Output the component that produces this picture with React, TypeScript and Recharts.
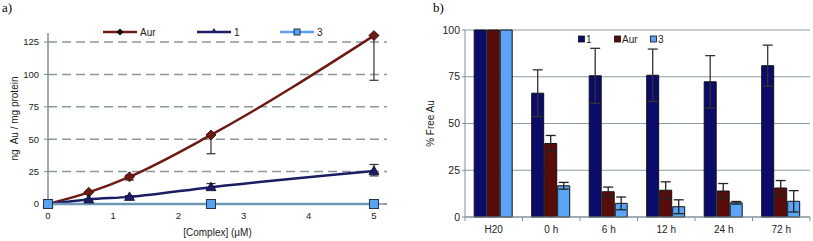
import React from "react";
import {
    LineChart,
    Line,
    BarChart,
    Bar,
    XAxis,
    YAxis,
    CartesianGrid,
    ErrorBar,
    Legend,
} from "recharts";

// panel a: gold uptake vs complex concentration
const CONC = [0, 0.625, 1.25, 2.5, 5];
const AUR = [0, 9, 21, 53.3, 130];
const AUR_ERR: [number, number][] = [[0, 0], [0, 0], [2.5, 1], [14.5, 0.5], [34.5, 0.5]];
const C1 = [0, 3.5, 5.5, 13, 25.5];
const C1_ERR: [number, number][] = [[0, 0], [0.5, 0.5], [1, 1], [1.5, 2.8], [3.8, 5]];
const C3 = [0, null, null, 0, 0];
const X_TICKS = [0, 1, 2, 3, 4, 5];
const Y_TICKS_A = [0, 25, 50, 75, 100, 125];

// panel b: % free Au over time
const TIMES = ["H20", "0 h", "6 h", "12 h", "24 h", "72 h"];
const FREE_1 = [100, 66.2, 75.5, 75.8, 72.3, 80.9];
const FREE_1_ERR = [0, 12.5, 14.7, 14, 14, 11];
const FREE_AUR = [100, 39.3, 13.5, 14.3, 13.9, 15.5];
const FREE_AUR_ERR = [0, 4.3, 2.5, 4.5, 4, 4];
const FREE_3 = [100, 16.7, 7.3, 5.5, 7.6, 8.4];
const FREE_3_ERR = [0, 1.8, 3.4, 3.7, 0.7, 5.7];
const Y_TICKS_B = [0, 25, 50, 75, 100];

const RED = "#6E1A14";
const NAVY = "#1C1C66";
const LIGHT = "#5AA2EC";
const BAR_NAVY = "#0B0B6B";
const BAR_RED = "#5A0C0A";
const BAR_LIGHT = "#5BA4F6";
const AXIS = "#7D9098";
const FONT = "'Liberation Sans', Arial, sans-serif";

const uptake = CONC.map((x, i) => ({
    x,
    aur: AUR[i],
    aurErr: AUR_ERR[i],
    c1: C1[i],
    c1Err: C1_ERR[i],
    c3: C3[i],
}));

const freeAu = TIMES.map((t, i) => ({
    t,
    c1: FREE_1[i],
    c1Err: FREE_1_ERR[i],
    aur: FREE_AUR[i],
    aurErr: FREE_AUR_ERR[i],
    c3: FREE_3[i],
    c3Err: FREE_3_ERR[i],
}));

type Shape = "diamond" | "triangle" | "square";

const marker = (shape: Shape, cx: number, cy: number, key?: any) => {
    if (shape === "diamond") {
        return (
            <path
                key={key}
                d={`M${cx},${cy - 5}L${cx + 5},${cy}L${cx},${cy + 5}L${cx - 5},${cy}Z`}
                fill={RED}
                stroke="#2a0806"
                strokeWidth={0.8}
            />
        );
    }
    if (shape === "triangle") {
        return (
            <path
                key={key}
                d={`M${cx},${cy - 5}L${cx + 5},${cy + 3.5}L${cx - 5},${cy + 3.5}Z`}
                fill={NAVY}
                stroke="#0c0c33"
                strokeWidth={0.8}
            />
        );
    }
    return (
        <rect
            key={key}
            x={cx - 4.5}
            y={cy - 4.5}
            width={9}
            height={9}
            fill={LIGHT}
            stroke="#1F3550"
            strokeWidth={1}
        />
    );
};

const dotOf = (shape: Shape) => (p: any) =>
    p.cx == null || p.cy == null || p.value == null ? (
        <g key={p.key ?? p.index} />
    ) : (
        marker(shape, p.cx, p.cy, p.key ?? p.index)
    );

const SERIES_A: { name: string; color: string; shape: Shape; at: number }[] = [
    { name: "Aur", color: RED, shape: "diamond", at: 0 },
    { name: "1", color: NAVY, shape: "triangle", at: 94 },
    { name: "3", color: LIGHT, shape: "square", at: 177 },
];

const LegendA = () => (
    <svg width={240} height={14}>
        {SERIES_A.map((s) => (
            <g key={s.name}>
                <line x1={s.at} x2={s.at + 34} y1={7} y2={7} stroke={s.color} strokeWidth={2.5} />
                {s.shape === "square" ? (
                    <rect x={s.at + 14} y={4} width={6} height={6} fill={LIGHT} stroke="#1F3550" />
                ) : s.shape === "triangle" ? (
                    <path d={`M${s.at + 17},${3}L${s.at + 20},${8}L${s.at + 14},${8}Z`} fill={NAVY} />
                ) : (
                    <path d={`M${s.at + 17},${3.5}L${s.at + 20.5},${7}L${s.at + 17},${10.5}L${s.at + 13.5},${7}Z`} fill="#111" />
                )}
                <text x={s.at + 37} y={11} fontSize={10} fontFamily={FONT} fill="#222">
                    {s.name}
                </text>
            </g>
        ))}
    </svg>
);

const SERIES_B = [
    { name: "1", color: BAR_NAVY, at: 0 },
    { name: "Aur", color: BAR_RED, at: 36 },
    { name: "3", color: BAR_LIGHT, at: 72 },
];

const LegendB = () => (
    <svg width={110} height={14}>
        {SERIES_B.map((s) => (
            <g key={s.name}>
                <rect x={s.at + 0.5} y={4} width={6} height={6} fill={s.color} stroke="#111" strokeWidth={0.8} />
                <text x={s.at + 8} y={11} fontSize={10} fontFamily={FONT} fill="#222">
                    {s.name}
                </text>
            </g>
        ))}
    </svg>
);

const PLOT_W_B = 403 - 55 - 3;
const BAND = PLOT_W_B / TIMES.length;

const TimeTick = (props: any) => {
    const { x, y, payload, index } = props;
    const half = BAND / 2;
    return (
        <g>
            <line x1={x - half} x2={x - half} y1={y} y2={y + 4} stroke={AXIS} />
            {index === TIMES.length - 1 && (
                <line x1={x + half} x2={x + half} y1={y} y2={y + 4} stroke={AXIS} />
            )}
            <text x={x} y={y + 16} textAnchor="middle" fontSize={10} fontFamily={FONT} fill="#222">
                {payload.value}
            </text>
        </g>
    );
};

const tickStyle = { fontSize: 9.5, fontFamily: FONT, fill: "#222" };

const App = () => {
    return (
        <div style={{ position: "absolute", left: 0, top: 0, width: 813, height: 241, background: "#fff" }}>
            <div style={{ position: "absolute", left: 2, top: 0, fontFamily: "'Liberation Serif', serif", fontSize: 13 }}>
                a)
            </div>
            <div style={{ position: "absolute", left: 433, top: 0, fontFamily: "'Liberation Serif', serif", fontSize: 13 }}>
                b)
            </div>

            <div style={{ position: "absolute", left: 0, top: 0 }}>
                <LineChart
                    width={410}
                    height={241}
                    data={uptake}
                    margin={{ top: 33, right: 23, left: 0, bottom: 0 }}
                >
                    <CartesianGrid
                        vertical={false}
                        horizontalValues={Y_TICKS_A}
                        stroke="#8A979C"
                        strokeWidth={1.5}
                        strokeDasharray="9 5"
                    />
                    <XAxis
                        dataKey="x"
                        type="number"
                        domain={[0, 5.2]}
                        ticks={X_TICKS}
                        height={37}
                        tickLine={false}
                        tickSize={4}
                        tickMargin={4}
                        axisLine={{ stroke: AXIS, strokeWidth: 1.5 }}
                        tick={tickStyle}
                        label={{
                            value: "[Complex] (μM)",
                            position: "insideBottom",
                            offset: 5,
                            style: { fontSize: 10, fontFamily: FONT, fill: "#222" },
                        }}
                    />
                    <YAxis
                        type="number"
                        domain={[0, 132]}
                        ticks={Y_TICKS_A}
                        width={48}
                        tickSize={4}
                        tickMargin={5}
                        tickLine={{ stroke: AXIS }}
                        axisLine={{ stroke: AXIS, strokeWidth: 1.5 }}
                        tick={tickStyle}
                        label={{
                            value: "ng\u00A0 Au / mg protein",
                            angle: -90,
                            position: "insideLeft",
                            dx: 9,
                            style: { textAnchor: "middle", fontSize: 10, fontFamily: FONT, fill: "#222" },
                        }}
                    />
                    <Legend
                        layout="horizontal"
                        verticalAlign="middle"
                        align="center"
                        content={() => <LegendA />}
                        wrapperStyle={{ top: 25, left: 103, width: 240, height: 14 }}
                    />
                    <Line
                        dataKey="aur"
                        name="Aur"
                        type="monotone"
                        stroke={RED}
                        strokeWidth={2.5}
                        dot={dotOf("diamond")}
                        activeDot={false}
                        isAnimationActive={false}
                    >
                        <ErrorBar dataKey="aurErr" width={4.5} stroke="#333" strokeWidth={1.2} />
                    </Line>
                    <Line
                        dataKey="c1"
                        name="1"
                        type="monotone"
                        stroke={NAVY}
                        strokeWidth={2.5}
                        dot={dotOf("triangle")}
                        activeDot={false}
                        isAnimationActive={false}
                    >
                        <ErrorBar dataKey="c1Err" width={4.5} stroke="#333" strokeWidth={1.2} />
                    </Line>
                    <Line
                        dataKey="c3"
                        name="3"
                        type="monotone"
                        connectNulls
                        stroke={LIGHT}
                        strokeWidth={2.5}
                        dot={dotOf("square")}
                        activeDot={false}
                        isAnimationActive={false}
                    />
                </LineChart>
            </div>

            <div style={{ position: "absolute", left: 410, top: 0 }}>
                <BarChart
                    width={403}
                    height={241}
                    data={freeAu}
                    margin={{ top: 30, right: 3, left: 0, bottom: 0 }}
                    barCategoryGap="16%"
                    barGap={1}
                >
                    <CartesianGrid vertical={false} stroke="#8B9BA4" strokeWidth={1} />
                    <XAxis
                        dataKey="t"
                        height={24}
                        tickLine={false}
                        tickSize={0}
                        tickMargin={0}
                        axisLine={{ stroke: AXIS }}
                        tick={<TimeTick />}
                        interval={0}
                    />
                    <YAxis
                        domain={[0, 100]}
                        ticks={Y_TICKS_B}
                        width={55}
                        tickSize={3}
                        tickMargin={2}
                        tickLine={{ stroke: AXIS }}
                        axisLine={{ stroke: AXIS }}
                        tick={{ fontSize: 10.5, fontFamily: FONT, fill: "#222" }}
                        label={{
                            value: "% Free Au",
                            angle: -90,
                            position: "insideLeft",
                            dx: 15,
                            style: { textAnchor: "middle", fontSize: 10, fontFamily: FONT, fill: "#222" },
                        }}
                    />
                    <Legend
                        layout="horizontal"
                        verticalAlign="middle"
                        align="center"
                        content={() => <LegendB />}
                        wrapperStyle={{ top: 32, left: 168, width: 110, height: 14 }}
                    />
                    <Bar dataKey="c1" name="1" fill={BAR_NAVY} stroke="#111" strokeWidth={1} isAnimationActive={false}>
                        <ErrorBar dataKey="c1Err" width={5} stroke="#333" strokeWidth={1.3} />
                    </Bar>
                    <Bar dataKey="aur" name="Aur" fill={BAR_RED} stroke="#111" strokeWidth={1} isAnimationActive={false}>
                        <ErrorBar dataKey="aurErr" width={5} stroke="#222" strokeWidth={1.3} />
                    </Bar>
                    <Bar dataKey="c3" name="3" fill={BAR_LIGHT} stroke="#111" strokeWidth={1} isAnimationActive={false}>
                        <ErrorBar dataKey="c3Err" width={5} stroke="#222" strokeWidth={1.3} />
                    </Bar>
                </BarChart>
            </div>
        </div>
    );
};

export default App;
